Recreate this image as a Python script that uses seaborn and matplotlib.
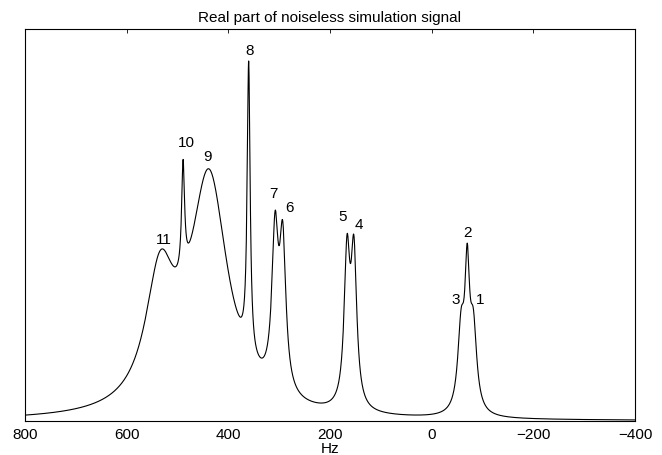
import numpy as np
import pandas as pd
import matplotlib
matplotlib.use("Agg")
import matplotlib.pyplot as plt
import seaborn as sns

# peaks: label, centre (Hz), height, half width at half max (Hz)
peak_labels = ["1", "2", "3", "4", "5", "6", "7", "8", "9", "10", "11"]
peak_hz = [-82, -70, -58, 153, 166.5, 293, 308, 360, 438, 489, 534]
peak_height = [80, 126, 80, 148, 148, 145, 151, 291, 235, 110, 127]
peak_hwhm = [8, 5.5, 8, 6.8, 6.8, 7.5, 7.5, 3.5, 45, 3.5, 35]

# label offsets from the top of each peak, in pixels (dx, dy up)
label_dx = [7, 0, -5, 5, -4, 7, -2, 1, -2, 3, 4]
label_dy = [10, 11, 9, 11, 18, 14, 18, 11, 13, 17, 11]

# real part of the spectrum = sum of absorption lorentzians
hz = np.linspace(-400, 800, 6001)
signal = np.zeros_like(hz)
for f0, a, g in zip(peak_hz, peak_height, peak_hwhm):
    signal += a * g**2 / ((hz - f0)**2 + g**2)

df = pd.DataFrame({"Hz": hz, "signal": signal})

sns.set_style("white")
plt.rcParams['font.family'] = ['Liberation Sans', 'DejaVu Sans']
fs = 11

fig = plt.figure(figsize=(6.62, 4.56), dpi=100)
ax = fig.add_axes([25/662, 34/456, 610/662, 392/456])

sns.lineplot(data=df, x="Hz", y="signal", color="black", lw=0.8, ax=ax)

ax.set_xlim(800, -400)
ax.set_ylim(0, 392)
ax.set_xticks([800, 600, 400, 200, 0, -200, -400])
ax.set_xticklabels(["800", "600", "400", "200", "0", "\u2212200", "\u2212400"])
ax.set_yticks([])
ax.tick_params(axis="x", direction="in", length=3, width=0.6, top=True,
               labelsize=fs, pad=4, color="black", labelcolor="black")
ax.set_xlabel("Hz", fontsize=fs, labelpad=0, color="black")
ax.set_ylabel("")
ax.set_title("Real part of noiseless simulation signal", fontsize=fs, pad=6,
             color="black")
for s in ax.spines.values():
    s.set_visible(True)
    s.set_color("black")
    s.set_linewidth(0.8)

# peak numbers
for lab, f0, dx, dy in zip(peak_labels, peak_hz, label_dx, label_dy):
    i = np.argmin(np.abs(hz - f0))
    ax.annotate(lab, (hz[i], signal[i]), xytext=(dx * 0.72, dy * 0.72),
                textcoords="offset points", ha="center", va="center",
                fontsize=fs, color="black")

fig.savefig("out.png", dpi=100)
